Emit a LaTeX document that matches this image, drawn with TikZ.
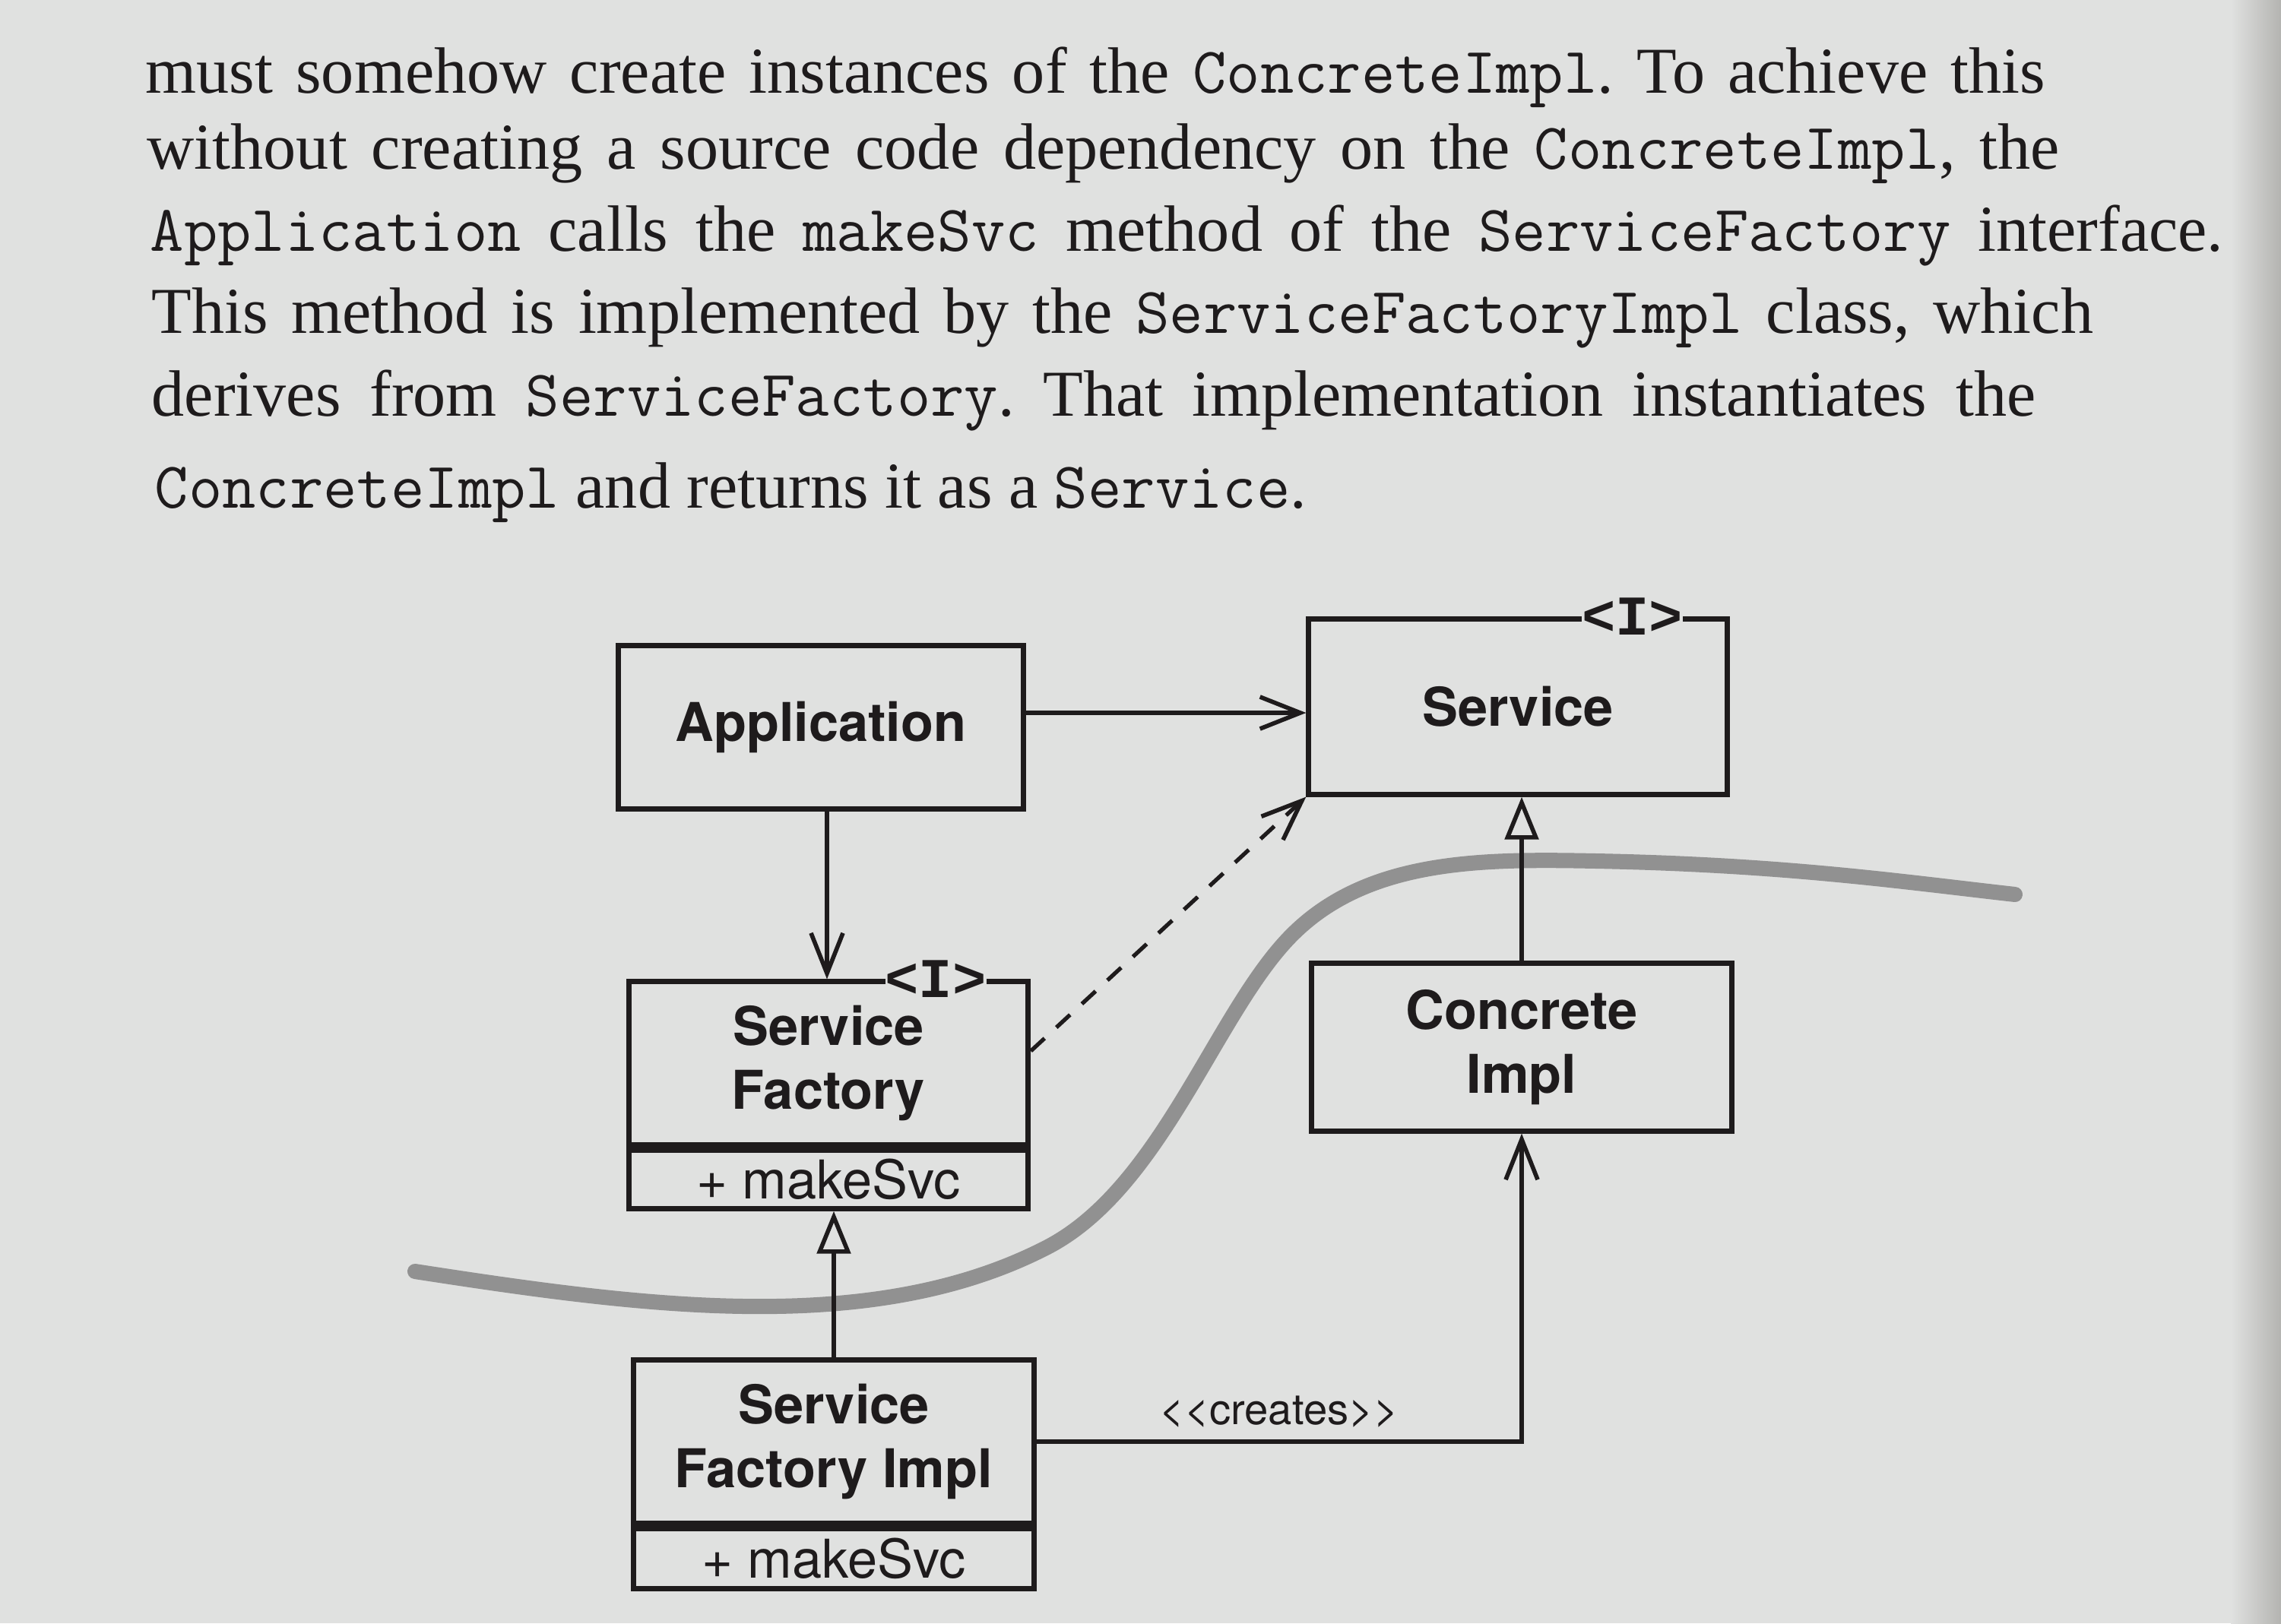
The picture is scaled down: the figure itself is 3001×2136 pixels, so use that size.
\documentclass[tikz,border=0pt]{standalone}
\usepackage{fontspec}
\setmainfont{Liberation Serif}
\setsansfont{TeX Gyre Heros}
\newfontfamily\itagfont{Liberation Mono}
\newfontfamily\lblfont{TeX Gyre Heros}
\usetikzlibrary{arrows.meta,positioning}
\definecolor{paper}{RGB}{224,225,224}
\definecolor{ink}{RGB}{30,27,28}
\definecolor{curvegray}{RGB}{145,145,145}
\definecolor{edgeshade}{RGB}{180,180,177}
\newcommand{\mycode}[1]{{\ttfamily #1}}
\frenchspacing
\begin{document}
\begin{tikzpicture}[x=0.01cm,y=-0.01cm,
  para/.style={anchor=base west, inner sep=0pt, text=ink,
    font=\rmfamily\fontsize{24.5}{29}\selectfont},
  cls/.style={draw=ink, line width=2pt, inner sep=0pt, align=center, text=ink,
    font=\sffamily\bfseries\fontsize{20}{24}\selectfont},
  opsbox/.style={draw=ink, line width=2pt, inner sep=0pt, text=ink,
    font=\sffamily\fontsize{20}{24}\selectfont},
  itag/.style={fill=paper, inner xsep=0pt, inner ysep=1pt, text=ink,
    font={\itagfont\bfseries\fontsize{21}{24}\selectfont}},
  assoc/.style={draw=ink, line width=1.5pt,
    -{Straight Barb[length=5.3mm,width=4.2mm,line width=1.6pt]}},
  inherit/.style={draw=ink, line width=1.5pt,
    -{Triangle[length=5.6mm,width=4.4mm,line width=1.6pt,fill=paper]}},
  dep/.style={assoc, dash pattern=on 7pt off 6pt},
  lbl/.style={inner sep=0pt, text=ink, font=\lblfont\fontsize{16}{19}\selectfont},
  boundary/.style={draw=curvegray, line width=0.2cm, line cap=round}
]
\useasboundingbox (0,0) rectangle (3001,2136);
\fill[paper] (0,0) rectangle (3001,2136);
\shade[left color=paper, right color=edgeshade] (2935,0) rectangle (3001,2136);

% paragraph
\node[para] (t1) at (191,122) {\makebox[24.98cm][s]{must somehow create instances of the \mycode{ConcreteImpl}. To achieve this}};
\node[para] (t2) at (193,222) {\makebox[25.15cm][s]{without creating a source code dependency on the \mycode{ConcreteImpl}, the}};
\node[para] (t3) at (197,330) {\makebox[27.26cm][s]{\mycode{Application} calls the \mycode{makeSvc} method of the \mycode{ServiceFactory} interface.}};
\node[para] (t4) at (199,438) {\makebox[25.53cm][s]{This method is implemented by the \mycode{ServiceFactoryImpl} class, which}};
\node[para] (t5) at (199,547) {\makebox[24.77cm][s]{derives from \mycode{ServiceFactory}. That implementation instantiates the}};
\node[para] (t6) at (203,668) {\mycode{ConcreteImpl} and returns it as a \mycode{Service}.};

% boundary curve
\draw[boundary] (546,1673) .. controls (850,1720) and (1150,1760) .. (1380,1640)
  .. controls (1530,1560) and (1600,1330) .. (1700,1230)
  .. controls (1800,1130) and (1950,1130) .. (2100,1133)
  .. controls (2350,1138) and (2500,1160) .. (2651,1177);

% classes
\node[cls, minimum width=5.32cm, minimum height=2.14cm] (app) at (1080,957) {Application};
\node[cls, minimum width=5.50cm, minimum height=2.30cm] (svc) at (1997,930) {Service};
\node[itag] (svcI) at ([xshift=-1.28cm]svc.north east) {<I>};

\node[cls, minimum width=5.25cm, minimum height=2.14cm] (sf) at (1090,1399) {Service\\Factory};
\node[opsbox, minimum width=5.25cm, minimum height=0.77cm, anchor=north] (sfops) at (sf.south) {+ makeSvc};
\node[itag] (sfI) at ([xshift=-1.25cm]sf.north east) {<I>};

\node[cls, minimum width=5.52cm, minimum height=2.20cm] (ci) at (2002,1378) {Concrete\\Impl};

\node[cls, minimum width=5.26cm, minimum height=2.14cm] (sfi) at (1097,1897) {Service\\Factory Impl};
\node[opsbox, minimum width=5.26cm, minimum height=0.79cm, anchor=north] (sfiops) at (sfi.south) {+ makeSvc};

% connectors
\coordinate (ay) at (0,938);
\coordinate (dx) at (1088,0);
\draw[assoc, line width=1.8pt] (app.east |- ay) -- (svc.west |- ay);
\draw[assoc] (app.south -| dx) -- (sf.north -| dx);
\draw[dep] ([yshift=0.16cm]sf.east) -- (svc.south west);
\draw[inherit] (ci.north) -- (ci.north |- svc.south);
\draw[inherit] (sfi.north) -- (sfi.north |- sfops.south);
\draw[assoc] (sfi.east) -| node[lbl, pos=0.25, anchor=base, yshift=0.23cm] (creates) {<<creates>>} (ci.south);
\end{tikzpicture}
\end{document}
